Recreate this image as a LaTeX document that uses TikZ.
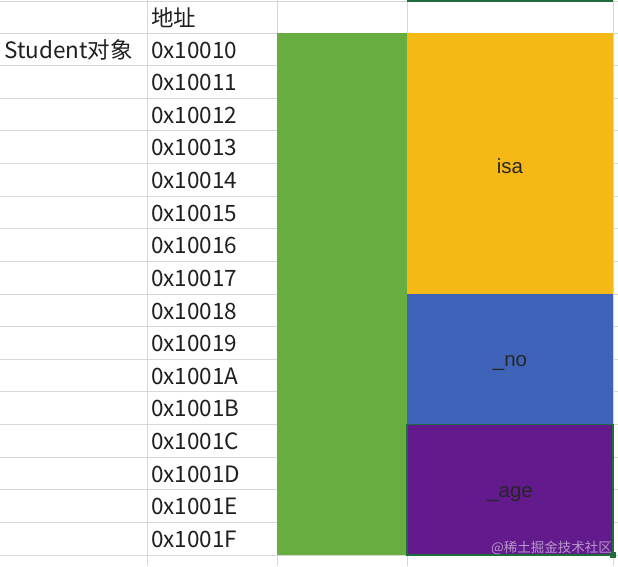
\documentclass[tikz,border=0pt]{standalone}
\usepackage{fontspec}
\setmainfont{Noto Sans CJK SC}
\newfontfamily\cellfont{Liberation Sans}
\usetikzlibrary{calc}

\definecolor{gridgray}{HTML}{D6D6D6}
\definecolor{isagold}{HTML}{F5B916}
\definecolor{stackgreen}{HTML}{67AD3F}
\definecolor{noblue}{HTML}{3F63B9}
\definecolor{agepurple}{HTML}{621A8C}
\definecolor{selgreen}{HTML}{1E6B3C}

\tikzset{
  gridline/.style={draw=gridgray,line width=1pt},
  addrtext/.style={anchor=west,inner sep=0pt,text=black!88,font=\fontsize{22.5}{26}\selectfont},
  fieldtext/.style={inner sep=0pt,text=black!85,font=\cellfont\fontsize{20.5}{24}\selectfont}
}

\begin{document}
\begin{tikzpicture}[x=1pt,y=-1pt]
\useasboundingbox (0,0) rectangle (618,566);
\fill[white] (0,0) rectangle (618,566);

% rows and columns of the sheet
\foreach \k in {0,...,16}
  \draw[gridline] (0,33+\k*32.625) -- (618,33+\k*32.625);
\draw[gridline] (0,1) -- (618,1);
\foreach \x in {147,277,407,613}
  \draw[gridline] (\x,0) -- (\x,566);

% memory blocks
\fill[stackgreen] (277,33) rectangle (407,555);
\fill[isagold] (407,33) rectangle (613,294);
\fill[noblue] (407,294) rectangle (613,424.5);
\fill[agepurple] (407,424.5) rectangle (613,555);
\draw[selgreen,line width=1.5pt] (407,424.5) rectangle (613,555);
\draw[selgreen,line width=2pt] (407,1) -- (613,1);
\fill[selgreen] (610,552) rectangle (616,558);

% header
\node[addrtext] (head) at (151,18) {地址};
\node[addrtext] (obj) at (4,50) {Student对象};

% addresses
\foreach \a [count=\k from 0] in {10,11,12,13,14,15,16,17,18,19,1A,1B,1C,1D,1E,1F}
  \node[addrtext] (addr\k) at (151,50+\k*32.625) {0x100\a};

% fields
\node[fieldtext] (isa) at (510,166) {isa};
\node[fieldtext] (no) at (510,363) {\_no};
\node[fieldtext] (age) at (510,494) {\_age};

\node[anchor=east,inner sep=0pt,text=white,opacity=0.55,font=\fontsize{13.5}{16}\selectfont] (mark) at (612,548) {@稀土掘金技术社区};
\end{tikzpicture}
\end{document}
